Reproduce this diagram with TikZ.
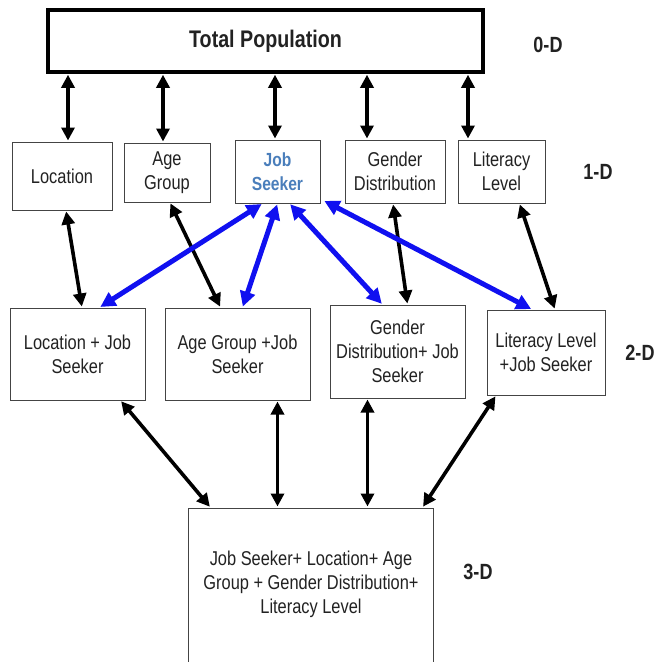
\documentclass[tikz,border=0pt]{standalone}
\usepackage{fontspec}
\setmainfont{Liberation Sans}[FakeStretch=0.82]
\usetikzlibrary{arrows.meta}
\definecolor{txt}{HTML}{222222}
\definecolor{edge}{HTML}{444444}
\definecolor{jsblue}{HTML}{4A7EBB}
\definecolor{arrblue}{HTML}{1010F0}
\begin{document}
\begin{tikzpicture}[x=1pt,y=-1pt,
  box/.style={draw=edge, line width=1pt, align=center, text=txt, inner sep=1pt,
    font=\fontsize{20}{24}\selectfont},
  lbl/.style={text=txt, font=\fontsize{22}{26}\selectfont\bfseries},
  dbl/.style={{Triangle[length=13pt,width=13pt]}-{Triangle[length=13pt,width=13pt]}, line width=3.6pt, shorten <=1pt, shorten >=1pt},
  bdbl/.style={{Triangle[length=15pt,width=15pt]}-{Triangle[length=15pt,width=15pt]}, draw=arrblue, fill=arrblue, line width=5pt, shorten <=1pt, shorten >=1pt}]
\useasboundingbox (0,0) rectangle (665,662);
\fill[white] (0,0) rectangle (665,662);
% 0-D
\node[box, line width=3.5pt, draw=black, minimum width=435pt, minimum height=62pt,
  font=\fontsize{24}{28}\selectfont\bfseries] (top) at (265.5,41) {Total Population};
\node[lbl] (l0) at (548,45) {0-D};
% 1-D
\node[box, minimum width=100pt, minimum height=68pt] (loc) at (62,176) {Location};
\node[box, minimum width=86pt, minimum height=59pt] (age) at (167,172.5) {Age\\Group};
\node[box, minimum width=85pt, minimum height=63pt, text=jsblue,
  font=\fontsize{19}{24}\selectfont\bfseries] (job) at (277.5,171.5) {Job\\Seeker};
\node[box, minimum width=100pt, minimum height=63pt] (gen) at (395,171.5) {Gender\\Distribution};
\node[box, minimum width=87pt, minimum height=63pt] (lit) at (501.5,171.5) {Literacy\\Level};
\node[lbl] (l1) at (598,172) {1-D};
% 2-D
\node[box, minimum width=135pt, minimum height=92pt] (lj) at (77.5,354) {Location + Job\\Seeker};
\node[box, minimum width=145pt, minimum height=92pt] (aj) at (237.5,354) {Age Group +Job\\Seeker};
\node[box, minimum width=135pt, minimum height=93pt] (gj) at (397.5,351.5) {Gender\\Distribution+ Job\\Seeker};
\node[box, minimum width=118pt, minimum height=85pt] (llj) at (546,352.5) {Literacy Level\\+Job Seeker};
\node[lbl] (l2) at (640,353) {2-D};
% 3-D
\node[box, minimum width=245pt, minimum height=166pt] (three) at (310.5,591) {};
\node[text=txt, align=center, font=\fontsize{20}{24}\selectfont] (threetxt) at (311,584)
  {Job Seeker+ Location+ Age\\Group + Gender Distribution+\\Literacy Level};
\node[lbl] (l3) at (478,572) {3-D};
% 0-D to 1-D
\draw[dbl] ([xshift=-197.5pt]top.south) -- ([xshift=6pt]loc.north);
\draw[dbl] ([xshift=-102.5pt]top.south) -- ([xshift=-4pt]age.north);
\draw[dbl] ([xshift=9.5pt]top.south) -- ([xshift=-2.5pt]job.north);
\draw[dbl] ([xshift=101.5pt]top.south) -- ([xshift=-28pt]gen.north);
\draw[dbl] ([xshift=202.5pt]top.south) -- ([xshift=-33.5pt]lit.north);
% 1-D to 2-D black
\draw[dbl] ([xshift=4pt]loc.south) -- ([xshift=4.5pt]lj.north);
\draw[dbl] ([xshift=3pt]age.south) -- ([xshift=-17pt]aj.north);
\draw[dbl] ([xshift=-2pt]gen.south) -- ([xshift=10pt]gj.north);
\draw[dbl] ([xshift=18pt]lit.south) -- ([xshift=9pt]llj.north);
% 1-D to 2-D blue
\draw[bdbl] ([xshift=-15pt]job.south) -- ([xshift=22pt]lj.north);
\draw[bdbl] ([xshift=0pt]job.south) -- ([xshift=5pt]aj.north);
\draw[bdbl] ([xshift=12pt]job.south) -- ([xshift=-15pt]gj.north);
\draw[bdbl] ([xshift=3pt,yshift=3pt]job.south east) -- ([xshift=-14pt]llj.north);
% 2-D to 3-D
\draw[dbl] ([xshift=43pt]lj.south) -- ([xshift=-100pt]three.north);
\draw[dbl] ([xshift=40pt]aj.south) -- ([xshift=-33pt]three.north);
\draw[dbl] ([xshift=-30pt]gj.south) -- ([xshift=57pt]three.north);
\draw[dbl] ([xshift=-50pt]llj.south) -- ([xshift=112pt]three.north);
\end{tikzpicture}
\end{document}
